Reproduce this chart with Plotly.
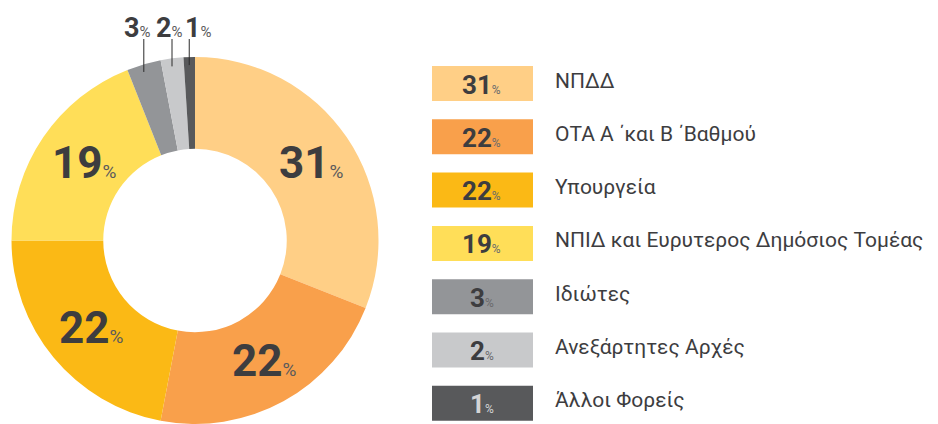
import math
import plotly.graph_objects as go

categories = ["ΝΠΔΔ", "ΟΤΑ Α ΄και Β ΄Βαθμού", "Υπουργεία",
              "ΝΠΙΔ και Ευρυτερος Δημόσιος Τομέας", "Ιδιώτες",
              "Ανεξάρτητες Αρχές", "Άλλοι Φορείς"]
values = [31, 22, 22, 19, 3, 2, 1]
colors = ["#FFCF86", "#F9A04B", "#FBB915", "#FFDE58", "#939598", "#C8C9CB", "#58595B"]
legend_num_colors = ["#3d3d3f", "#3d3d3f", "#3d3d3f", "#3d3d3f", "#3d3d3f", "#3d3d3f", "#d4d4d6"]
legend_pct_colors = ["#6a6a6c", "#6a6a6c", "#6a6a6c", "#6a6a6c", "#6a6a6c", "#6a6a6c", "#d4d4d6"]

W, H = 938, 424
CX, R = 195.0, 183.5
CY = H - R
HOLE = 0.5
TXT = "#3d3d3f"
FONT = "Roboto"
# horizontal shift of outside labels relative to their leader lines (small slices, in order)
small_label_shift = [-6, -3, 9]


def px(x):
    return x / W


def py(y):
    return 1 - y / H


fig = go.Figure()
fig.add_trace(go.Pie(
    labels=categories, values=values, sort=False, direction="clockwise",
    rotation=0, hole=HOLE, marker=dict(colors=colors, line=dict(width=0)),
    textinfo="none", hoverinfo="label+value", showlegend=False,
    domain=dict(x=[px(CX - R), px(CX + R)], y=[0, 2 * R / H]),
))

annotations = []
shapes = []
total = sum(values)
cum = 0.0
small_label_y = 28
k = 0
for i, v in enumerate(values):
    mid = (cum + v / 2) / total
    cum += v
    ang = math.radians(90 - 360 * mid)
    if v >= 10:
        rr = R * (1 + HOLE) / 2
        x = CX + rr * math.cos(ang)
        y = CY - rr * math.sin(ang)
        annotations.append(dict(
            x=px(x + 3), y=py(y), xref="paper", yref="paper", showarrow=False,
            xanchor="center", yanchor="middle",
            text=f"<b>{v}</b><span style='font-size:19px;color:#5a5a5c'>%</span>",
            font=dict(family=FONT, size=44, color=TXT)))
    else:
        x = CX + R * math.cos(ang)
        y_end = CY - (R - 8) * math.sin(ang)
        shapes.append(dict(type="line", xref="paper", yref="paper",
                           x0=px(x), x1=px(x), y0=py(39), y1=py(y_end),
                           line=dict(color="#2a2a2a", width=1)))
        annotations.append(dict(
            x=px(x + small_label_shift[k]), y=py(small_label_y), xref="paper", yref="paper",
            showarrow=False, xanchor="center", yanchor="middle",
            text=f"<b>{v}</b><span style='font-size:15px;color:#5a5a5c'>%</span>",
            font=dict(family=FONT, size=27, color=TXT)))
        k += 1

# legend
row0, step, bh = 66, 53.3, 35
for i, (c, v) in enumerate(zip(categories, values)):
    top = row0 + i * step
    shapes.append(dict(type="rect", xref="paper", yref="paper",
                       x0=px(432), x1=px(533), y0=py(top), y1=py(top + bh),
                       fillcolor=colors[i], line=dict(width=0), layer="below"))
    annotations.append(dict(
        x=px(482), y=py(top + bh / 2 + 1), xref="paper", yref="paper",
        showarrow=False, xanchor="center", yanchor="middle",
        text=f"<b>{v}</b><span style='font-size:12px;color:{legend_pct_colors[i]}'>%</span>",
        font=dict(family=FONT, size=26, color=legend_num_colors[i])))
    annotations.append(dict(
        x=px(553), y=py(top + bh / 2 - 3), xref="paper", yref="paper",
        showarrow=False, xanchor="left", yanchor="middle",
        text=c, font=dict(family=FONT, size=21, color=TXT)))

fig.update_layout(
    width=W, height=H, margin=dict(l=0, r=0, t=0, b=0),
    paper_bgcolor="white", plot_bgcolor="white",
    annotations=annotations, shapes=shapes,
)
fig.write_html("out.html", config={"displayModeBar": False},
               post_script="document.body.style.margin='0';document.body.style.overflow='hidden';")
